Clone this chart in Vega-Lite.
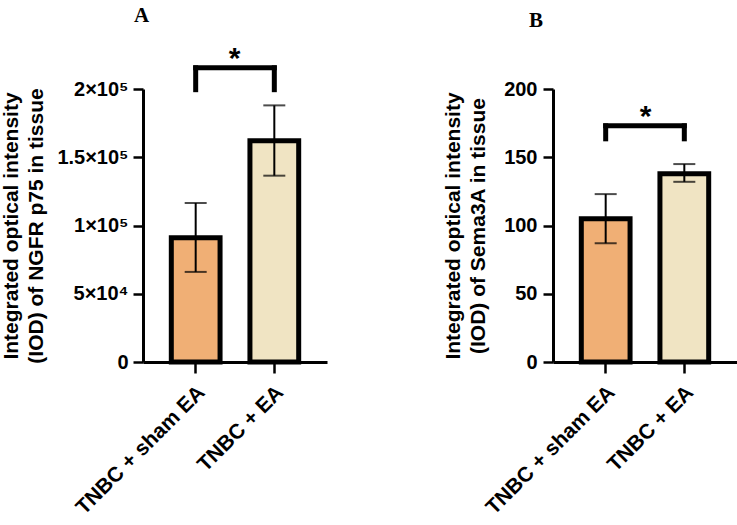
{
  "$schema": "https://vega.github.io/schema/vega-lite/v6.json",
  "background": "white",
  "padding": {"left": 0, "top": 5, "right": 0, "bottom": 0},
  "config": {
    "view": {"stroke": null},
    "font": "Liberation Sans",
    "axis": {
      "domainColor": "black", "domainWidth": 3, "tickColor": "black", "tickWidth": 2.5,
      "labelFont": "Liberation Sans", "labelFontWeight": "bold", "labelColor": "black", "labelFontSize": 20,
      "titleFont": "Liberation Sans", "titleFontWeight": "bold", "titleColor": "black", "titleFontSize": 21, "titleLineHeight": 25,
      "grid": false
    },
    "title": {"font": "Liberation Serif", "fontWeight": "bold", "fontSize": 21, "color": "black", "anchor": "start", "frame": "group"}
  },
  "datasets": {
    "a": [
      {"group": "TNBC + sham EA", "mean": 91000, "lo": 66000, "hi": 116500},
      {"group": "TNBC + EA", "mean": 162000, "lo": 136500, "hi": 188000}
    ],
    "b": [
      {"group": "TNBC + sham EA", "mean": 105, "lo": 87, "hi": 123},
      {"group": "TNBC + EA", "mean": 138, "lo": 132, "hi": 145}
    ],
    "brA": [{"g1": "TNBC + sham EA", "g2": "TNBC + EA", "top": 215500, "bottom": 199500, "star": 227800, "label": "*"}],
    "brB": [{"g1": "TNBC + sham EA", "g2": "TNBC + EA", "top": 173, "bottom": 163.5, "star": 185, "label": "*"}]
  },
  "hconcat": [
    {
      "width": 184, "height": 273,
      "title": {"text": "A", "dx": -9, "offset": 18},
      "layer": [
        {
          "data": {"name": "a"},
          "mark": {"type": "bar", "stroke": "black", "strokeWidth": 5, "strokeJoin": "miter"},
          "encoding": {
            "x": {"field": "group", "type": "nominal",
                  "scale": {"domain": ["TNBC + sham EA", "TNBC + EA"], "paddingInner": 0.38, "paddingOuter": 0.36},
                  "axis": {"title": null, "labelAngle": -45, "labelAlign": "right", "labelBaseline": "middle", "labelFontSize": 21, "labelLimit": 0, "tickSize": 11, "labelPadding": 16, "labelOffset": 6}},
            "y": {"field": "mean", "type": "quantitative", "scale": {"domain": [0, 200000], "nice": false},
                  "axis": {"title": ["Integrated optical intensity", "(IOD) of NGFR p75 in tissue"], "values": [0, 50000, 100000, 150000, 200000],
                           "labelExpr": "datum.value == 0 ? '0' : datum.value < 100000 ? (datum.value/10000) + '×10⁴' : (datum.value/100000) + '×10⁵'",
                           "tickSize": 10, "labelPadding": 5, "titlePadding": 10}},
            "color": {"field": "group", "type": "nominal", "scale": {"domain": ["TNBC + sham EA", "TNBC + EA"], "range": ["#F0AF75", "#F0E4C3"]}, "legend": null}
          }
        },
        {
          "data": {"name": "a"},
          "mark": {"type": "rule", "color": "black", "strokeWidth": 2},
          "encoding": {"x": {"field": "group", "type": "nominal"}, "y": {"field": "lo", "type": "quantitative"}, "y2": {"field": "hi"}}
        },
        {
          "data": {"name": "a"},
          "mark": {"type": "tick", "color": "black", "thickness": 2, "size": 22},
          "encoding": {"x": {"field": "group", "type": "nominal"}, "y": {"field": "lo", "type": "quantitative"}}
        },
        {
          "data": {"name": "a"},
          "mark": {"type": "tick", "color": "black", "thickness": 2, "size": 22},
          "encoding": {"x": {"field": "group", "type": "nominal"}, "y": {"field": "hi", "type": "quantitative"}}
        },
        {
          "data": {"name": "brA"},
          "mark": {"type": "rule", "color": "black", "strokeWidth": 5, "strokeCap": "square"},
          "encoding": {"x": {"field": "g1", "type": "nominal"}, "x2": {"field": "g2"}, "y": {"field": "top", "type": "quantitative"}}
        },
        {
          "data": {"name": "brA"},
          "mark": {"type": "rule", "color": "black", "strokeWidth": 5, "strokeCap": "square"},
          "encoding": {"x": {"field": "g1", "type": "nominal"}, "y": {"field": "top", "type": "quantitative"}, "y2": {"field": "bottom"}}
        },
        {
          "data": {"name": "brA"},
          "mark": {"type": "rule", "color": "black", "strokeWidth": 5, "strokeCap": "square"},
          "encoding": {"x": {"field": "g2", "type": "nominal"}, "y": {"field": "top", "type": "quantitative"}, "y2": {"field": "bottom"}}
        },
        {
          "data": {"name": "brA"},
          "mark": {"type": "text", "fontSize": 30, "fontWeight": "bold", "font": "Liberation Sans", "dx": 39, "baseline": "middle", "dy": 8},
          "encoding": {"x": {"field": "g1", "type": "nominal"}, "y": {"field": "star", "type": "quantitative"}, "text": {"field": "label"}}
        }
      ]
    },
    {
      "width": 184, "height": 273,
      "title": {"text": "B", "dx": -24, "offset": 48},
      "layer": [
        {
          "data": {"name": "b"},
          "mark": {"type": "bar", "stroke": "black", "strokeWidth": 5, "strokeJoin": "miter"},
          "encoding": {
            "x": {"field": "group", "type": "nominal",
                  "scale": {"domain": ["TNBC + sham EA", "TNBC + EA"], "paddingInner": 0.38, "paddingOuter": 0.36},
                  "axis": {"title": null, "labelAngle": -45, "labelAlign": "right", "labelBaseline": "middle", "labelFontSize": 21, "labelLimit": 0, "tickSize": 11, "labelPadding": 16, "labelOffset": 6}},
            "y": {"field": "mean", "type": "quantitative", "scale": {"domain": [0, 200], "nice": false},
                  "axis": {"title": ["Integrated optical intensity", "(IOD) of Sema3A in tissue"], "values": [0, 50, 100, 150, 200],
                           "tickSize": 10, "labelPadding": 6, "titlePadding": 15}},
            "color": {"field": "group", "type": "nominal", "scale": {"domain": ["TNBC + sham EA", "TNBC + EA"], "range": ["#F0AF75", "#F0E4C3"]}, "legend": null}
          }
        },
        {
          "data": {"name": "b"},
          "mark": {"type": "rule", "color": "black", "strokeWidth": 2},
          "encoding": {"x": {"field": "group", "type": "nominal"}, "y": {"field": "lo", "type": "quantitative"}, "y2": {"field": "hi"}}
        },
        {
          "data": {"name": "b"},
          "mark": {"type": "tick", "color": "black", "thickness": 2, "size": 22},
          "encoding": {"x": {"field": "group", "type": "nominal"}, "y": {"field": "lo", "type": "quantitative"}}
        },
        {
          "data": {"name": "b"},
          "mark": {"type": "tick", "color": "black", "thickness": 2, "size": 22},
          "encoding": {"x": {"field": "group", "type": "nominal"}, "y": {"field": "hi", "type": "quantitative"}}
        },
        {
          "data": {"name": "brB"},
          "mark": {"type": "rule", "color": "black", "strokeWidth": 5, "strokeCap": "square"},
          "encoding": {"x": {"field": "g1", "type": "nominal"}, "x2": {"field": "g2"}, "y": {"field": "top", "type": "quantitative"}}
        },
        {
          "data": {"name": "brB"},
          "mark": {"type": "rule", "color": "black", "strokeWidth": 5, "strokeCap": "square"},
          "encoding": {"x": {"field": "g1", "type": "nominal"}, "y": {"field": "top", "type": "quantitative"}, "y2": {"field": "bottom"}}
        },
        {
          "data": {"name": "brB"},
          "mark": {"type": "rule", "color": "black", "strokeWidth": 5, "strokeCap": "square"},
          "encoding": {"x": {"field": "g2", "type": "nominal"}, "y": {"field": "top", "type": "quantitative"}, "y2": {"field": "bottom"}}
        },
        {
          "data": {"name": "brB"},
          "mark": {"type": "text", "fontSize": 30, "fontWeight": "bold", "font": "Liberation Sans", "dx": 40, "baseline": "middle", "dy": 8},
          "encoding": {"x": {"field": "g1", "type": "nominal"}, "y": {"field": "star", "type": "quantitative"}, "text": {"field": "label"}}
        }
      ]
    }
  ],
  "spacing": 115
}
